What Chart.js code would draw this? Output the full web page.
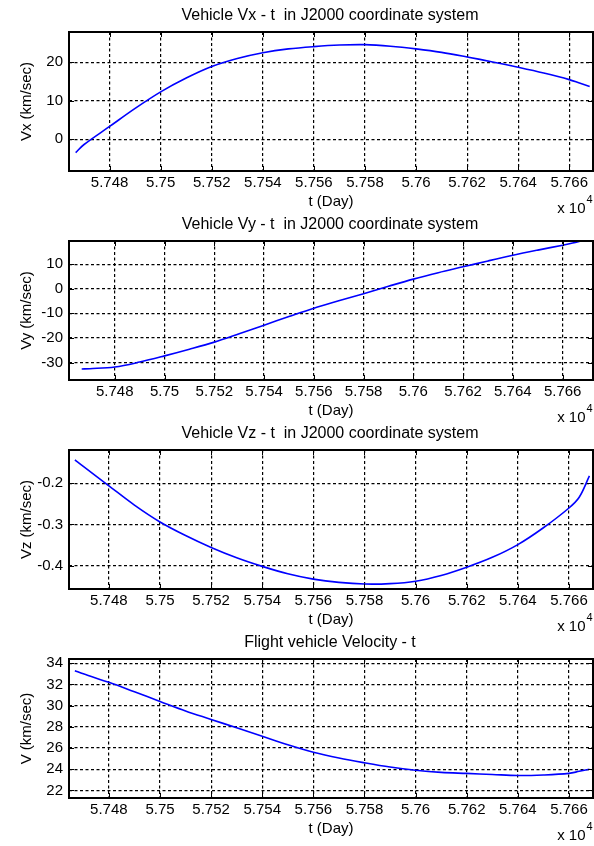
<!DOCTYPE html>
<html>
<head>
<meta charset="utf-8">
<title>Vehicle velocity</title>
<script src="https://cdn.jsdelivr.net/npm/chart.js@4.4.0/dist/chart.umd.min.js"></script>
<style>
  body { margin: 0; background: #fff; }
  #wrap { position: relative; width: 594px; height: 846px; overflow: hidden; }
  .panel { position: absolute; left: 0; width: 594px; height: 222px; }
</style>
</head>
<body>
<div id="wrap">
  <div class="panel" style="top:0px"><canvas id="chartVx"></canvas></div>
  <div class="panel" style="top:209px"><canvas id="chartVy"></canvas></div>
  <div class="panel" style="top:418px"><canvas id="chartVz"></canvas></div>
  <div class="panel" style="top:627px"><canvas id="chartV"></canvas></div>
</div>
<script>
// time in days (MJD), shared by all four plots
const tDay = [57466.7, 57470, 57480, 57490, 57500, 57510, 57520, 57530, 57540, 57550, 57560,
  57570, 57580, 57590, 57600, 57610, 57620, 57630, 57640, 57650, 57660, 57664, 57668];

const vx = [-3.5, -1.4, 3.3, 8.0, 12.3, 15.9, 18.9, 21.0, 22.5, 23.5, 24.1,
  24.5, 24.6, 24.2, 23.5, 22.6, 21.4, 20.1, 18.7, 17.2, 15.5, 14.6, 13.7];
const vy = [-32.6, -32.5, -31.8, -29.8, -27.3, -24.6, -21.7, -18.3, -14.8, -11.3, -7.9,
  -4.9, -2.0, 1.0, 3.9, 6.5, 8.9, 11.3, 13.6, 15.7, 17.7, 18.6, 19.6];
const vz = [-0.143, -0.159, -0.206, -0.253, -0.294, -0.327, -0.356, -0.381, -0.402, -0.420, -0.433,
  -0.441, -0.445, -0.444, -0.438, -0.424, -0.404, -0.380, -0.349, -0.308, -0.260, -0.234, -0.182];
const vTotal = [33.3, 33.0, 32.2, 31.3, 30.4, 29.5, 28.7, 27.9, 27.1, 26.3, 25.6,
  25.05, 24.6, 24.2, 23.9, 23.7, 23.6, 23.5, 23.4, 23.45, 23.6, 23.8, 24.0];

const xTicks = [57480, 57500, 57520, 57540, 57560, 57580, 57600, 57620, 57640, 57660];
const vxTicks = [0, 10, 20];
const vyTicks = [-30, -20, -10, 0, 10];
const vzTicks = [-0.4, -0.3, -0.2];
const vTicks = [22, 24, 26, 28, 30, 32, 34];

const fontFamily = '"Liberation Sans", Arial, Helvetica, sans-serif';
Chart.defaults.font.family = fontFamily;
Chart.defaults.color = '#000';

// box, inner ticks and the matlab style texts
const matlabFrame = {
  id: 'matlabFrame',
  afterDraw(chart, args, opts) {
    const { ctx, chartArea: a, scales } = chart;
    const xs = scales.x, ys = scales.y;
    ctx.save();
    ctx.strokeStyle = '#000';
    ctx.lineWidth = 1;
    ctx.setLineDash([]);
    ctx.beginPath();
    xs.ticks.forEach(t => {
      const px = Math.round(xs.getPixelForValue(t.value)) + 0.5;
      ctx.moveTo(px, a.bottom); ctx.lineTo(px, a.bottom - 5);
      ctx.moveTo(px, a.top); ctx.lineTo(px, a.top + 5);
    });
    ys.ticks.forEach(t => {
      const py = Math.round(ys.getPixelForValue(t.value)) + 0.5;
      ctx.moveTo(a.left, py); ctx.lineTo(a.left + 5, py);
      ctx.moveTo(a.right, py); ctx.lineTo(a.right - 5, py);
    });
    ctx.stroke();
    ctx.lineWidth = 2;
    ctx.strokeRect(a.left, a.top, a.right - a.left, a.bottom - a.top);

    const cx = (a.left + a.right) / 2;
    ctx.fillStyle = '#000';
    ctx.textAlign = 'center';
    ctx.textBaseline = 'middle';
    ctx.font = '16px ' + fontFamily;
    ctx.fillText(opts.title, cx - 1, 16);
    ctx.font = '15px ' + fontFamily;
    ctx.fillText('t (Day)', cx, a.bottom + 31);

    ctx.textAlign = 'right';
    ctx.fillText('x 10', 585.5, a.bottom + 38);
    ctx.textAlign = 'left';
    ctx.font = '11px ' + fontFamily;
    ctx.fillText('4', 586.5, a.bottom + 29);

    ctx.font = '15px ' + fontFamily;
    ctx.textAlign = 'center';
    ctx.translate(27, (a.top + a.bottom) / 2);
    ctx.rotate(-Math.PI / 2);
    ctx.fillText(opts.yLabel, 0, 0);
    ctx.restore();
  }
};

function fmt(v) {
  return String(parseFloat(v.toFixed(4)));
}

function makeChart(id, values, yTicks, title, yLabel, xMin, xMax, yMin, yMax) {
  const points = tDay.map((t, i) => ({ x: t, y: values[i] }));
  return new Chart(document.getElementById(id), {
    type: 'line',
    data: {
      datasets: [{
        data: points,
        borderColor: '#0000ff',
        borderWidth: 1.6,
        pointRadius: 0,
        tension: 0.35,
        fill: false
      }]
    },
    options: {
      responsive: true,
      maintainAspectRatio: false,
      animation: false,
      layout: { padding: { top: 32, right: 1, left: 0, bottom: 0 } },
      plugins: {
        legend: { display: false },
        tooltip: { enabled: false },
        matlabFrame: { title: title, yLabel: yLabel }
      },
      scales: {
        x: {
          type: 'linear',
          min: xMin,
          max: xMax,
          afterBuildTicks: scale => { scale.ticks = xTicks.map(v => ({ value: v })); },
          afterFit: scale => { scale.height = 51; },
          grid: { color: '#000', lineWidth: 1.2, drawTicks: false },
          border: { display: false, dash: [3, 2.5] },
          ticks: {
            padding: 3,
            maxRotation: 0,
            autoSkip: false,
            font: { size: 15 },
            callback: v => fmt(v / 10000)
          }
        },
        y: {
          type: 'linear',
          min: yMin,
          max: yMax,
          afterBuildTicks: scale => { scale.ticks = yTicks.map(v => ({ value: v })); },
          afterFit: scale => { scale.width = 69; },
          grid: { color: '#000', lineWidth: 1.2, drawTicks: false },
          border: { display: false, dash: [3, 2.5] },
          ticks: {
            padding: 6,
            autoSkip: false,
            font: { size: 15 },
            callback: v => fmt(v)
          }
        }
      }
    },
    plugins: [matlabFrame]
  });
}

makeChart('chartVx', vx, vxTicks, 'Vehicle Vx - t  in J2000 coordinate system', 'Vx (km/sec)',
  57464.1, 57669.3, -8.3, 27.9);
makeChart('chartVy', vy, vyTicks, 'Vehicle Vy - t  in J2000 coordinate system', 'Vy (km/sec)',
  57461.6, 57672.2, -37.1, 19.4);
makeChart('chartVz', vz, vzTicks, 'Vehicle Vz - t  in J2000 coordinate system', 'Vz (km/sec)',
  57464.4, 57669.4, -0.457, -0.119);
makeChart('chartV', vTotal, vTicks, 'Flight vehicle Velocity - t', 'V (km/sec)',
  57464.4, 57669.4, 21.28, 34.4);
</script>
</body>
</html>
